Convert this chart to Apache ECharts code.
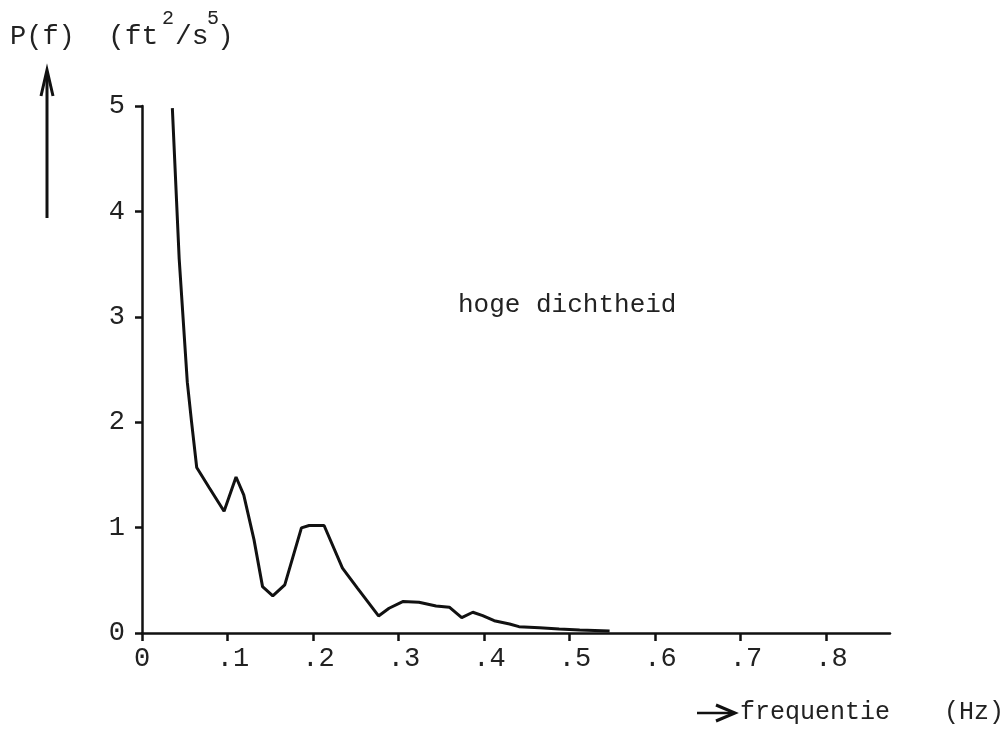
<!DOCTYPE html>
<html>
<head>
<meta charset="utf-8">
<script src="https://cdn.jsdelivr.net/npm/echarts@6/dist/echarts.min.js"></script>
<style>
	html, body { margin: 0; padding: 0; background: #fff; }
	#chart { width: 1008px; height: 742px; }
</style>
</head>
<body>
<div id="chart"></div>
<script>
// frequentie (Hz) en spectrale dichtheid P(f)
var freq = [0.0355, 0.0435, 0.053, 0.058, 0.064, 0.0785, 0.096, 0.110, 0.119, 0.131,
	0.141, 0.153, 0.167, 0.1865, 0.1955, 0.213, 0.2345, 0.252, 0.2767, 0.289,
	0.305, 0.324, 0.344, 0.3595, 0.374, 0.387, 0.3985, 0.412, 0.43, 0.441,
	0.465, 0.488, 0.512, 0.547];
var power = [4.98, 3.55, 2.38, 2.0, 1.57, 1.38, 1.155, 1.48, 1.31, 0.886,
	0.44, 0.352, 0.457, 0.997, 1.02, 1.02, 0.616, 0.426, 0.162, 0.235,
	0.298, 0.292, 0.257, 0.245, 0.146, 0.197, 0.165, 0.117, 0.086, 0.06,
	0.05, 0.038, 0.029, 0.019];
// tick labels op de x-as
var xTicks = [0, 0.1, 0.2, 0.3, 0.4, 0.5, 0.6, 0.7, 0.8];
var xTickLabels = ['0', '.1', '.2', '.3', '.4', '.5', '.6', '.7', '.8'];

var font = 'Liberation Mono, DejaVu Sans Mono, monospace';
var ink = '#111';

var seriesData = [];
freq.forEach(function (f, i) {
	seriesData.push([f, power[i]]);
});

var chart = echarts.init(document.getElementById('chart'));
chart.setOption({
	backgroundColor: '#fff',
	animation: false,
	grid: { left: 142, right: 118, top: 106, bottom: 109 },
	xAxis: {
		type: 'value',
		min: 0,
		max: 0.875,
		splitLine: { show: false },
		axisLine: { show: true, lineStyle: { color: ink, width: 2.5 } },
		axisTick: { show: true, length: 8, lineStyle: { color: ink, width: 2.5 }, customValues: xTicks },
		axisLabel: {
			customValues: xTicks,
			margin: 12,
			fontFamily: font,
			fontSize: 27,
			color: '#222',
			formatter: function (v) {
				var idx = xTicks.indexOf(Math.round(v * 10) / 10);
				if (idx < 0) return '';
				if (idx === 0) return xTickLabels[0];
				return '{d|' + xTickLabels[idx] + '}';
			},
			rich: {
				d: { fontFamily: font, fontSize: 27, color: '#222', padding: [0, 0, 0, 11] }
			}
		}
	},
	yAxis: {
		type: 'value',
		min: 0,
		max: 5,
		interval: 1,
		splitLine: { show: false },
		axisLine: { show: true, lineStyle: { color: ink, width: 2.5 } },
		axisTick: { show: true, length: 7, lineStyle: { color: ink, width: 2.5 } },
		axisLabel: { margin: 17, fontFamily: font, fontSize: 27, color: '#222' }
	},
	series: [{
		type: 'line',
		data: seriesData,
		showSymbol: false,
		smooth: false,
		lineStyle: { color: ink, width: 3 }
	}],
	graphic: [
		// titel links boven
		{ type: 'text', left: 10, top: 23, style: { text: 'P(f)', font: '27px ' + font, fill: '#222' } },
		{ type: 'text', left: 108, top: 23, style: { text: '(ft', font: '28px ' + font, fill: '#222' } },
		{ type: 'text', left: 162, top: 9, style: { text: '2', font: '20px ' + font, fill: '#222' } },
		{ type: 'text', left: 175, top: 23, style: { text: '/s', font: '28px ' + font, fill: '#222' } },
		{ type: 'text', left: 207, top: 9, style: { text: '5', font: '20px ' + font, fill: '#222' } },
		{ type: 'text', left: 217, top: 23, style: { text: ')', font: '28px ' + font, fill: '#222' } },
		// pijl omhoog
		{ type: 'line', shape: { x1: 47, y1: 218, x2: 47, y2: 72 }, style: { stroke: ink, lineWidth: 3 } },
		{ type: 'polyline', shape: { points: [[41, 96], [47, 70], [53, 96]] }, style: { stroke: ink, lineWidth: 3, fill: null } },
		// pijl naar rechts
		{ type: 'line', shape: { x1: 697, y1: 713, x2: 734, y2: 713 }, style: { stroke: ink, lineWidth: 2.5 } },
		{ type: 'polyline', shape: { points: [[716, 705], [735, 713], [716, 721]] }, style: { stroke: ink, lineWidth: 3, fill: null } },
		{ type: 'text', left: 740, top: 700, style: { text: 'frequentie', font: '25px ' + font, fill: '#222' } },
		{ type: 'text', left: 944, top: 700, style: { text: '(Hz)', font: '25px ' + font, fill: '#222' } },
		// annotatie
		{ type: 'text', left: 458, top: 292, style: { text: 'hoge dichtheid', font: '26px ' + font, fill: '#222' } }
	]
});
</script>
</body>
</html>
